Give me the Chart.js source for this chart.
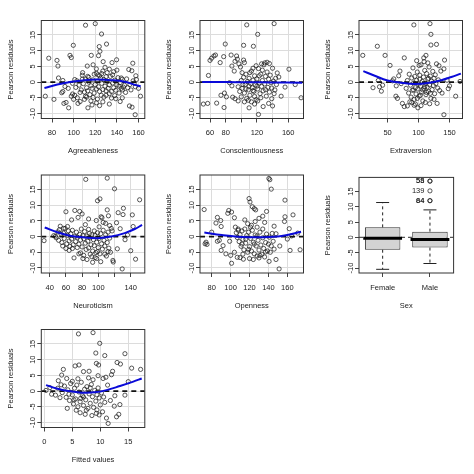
<!DOCTYPE html>
<html><head><meta charset="utf-8">
<script src="https://cdn.jsdelivr.net/npm/chart.js@4.4.1/dist/chart.umd.min.js"></script>
<style>
html,body{margin:0;padding:0;background:#fff;}
#wrap{position:relative;width:474px;height:474px;overflow:hidden;background:#fff;}
canvas{position:absolute;}
</style></head><body><div id="wrap"></div>
<script>
// ---------- shared axis data ----------
const yTicks = [-10, -5, 0, 5, 10, 15];
const yRange = [-11.6, 19.6];
const yTitle = 'Pearson residuals';

// ---------- Agreeableness ----------
const agreeXTicks = [80, 100, 120, 140, 160];
const agreeXLabels = ['80', '100', '120', '140', '160'];
const agreeXRange = [70.1, 165.8];
const agreePts = [
[111,18.1],[120,18.6],[125.8,15.3],[99.7,11.7],[130.4,12.1],[77,7.6],[84.6,6.9],[85.5,5.1],[96.6,8.5],[97.8,7.8],[116.3,8.5],[123.7,11.3],[124.3,9.8],[123,8.4],[127.3,6.5],[135.5,6.2],[139.7,7.1],[112.6,5.1],[108.3,3.0],[121,2.8],[122.5,2.3],[151,4.0],[154.7,6.0],[153.8,3.6],[157.5,2.0],[86,1.3],[90,0.5],[101,0.8],[133,4.1],[137,3.3],[144,1.3],[130,1.7],[118,5.5],[108,2.2],[114,1.5],[103,0.4],
[73.8,-4.5],[81.8,-5.5],[89,-3.4],[90,-3.0],[91,-6.8],[95.4,-8.2],[93,-6.5],[97.8,-4.5],[99,-3.8],[101,-4.2],[103.4,-5.0],[106,-6.2],[110,-5.5],[112,-4.8],[113.2,-8.2],[117,-7.3],[121,-6.6],[125.5,-4.2],[127,-6.3],[130,-2.8],[135,-5.1],[139,-5.3],[142,-3.5],[145,-2.5],[148,-3.3],[151.6,-7.6],[154,-8.0],[156.9,-10.4],[161.8,-4.5],[160,-2.0],[157,-1.5],[155,0.4],[152,-0.8],[149,1.0],[146,-1.6],
[105,-1],[107,-2.5],[109,-0.5],[110,-3.2],[111,1],[112,-1.8],[113,-2.8],[114,0],[115,-4],[116,-1.2],[117,-2],[118,0.7],[119,-3.5],[120,-0.8],[121,-2.2],[122,0.3],[123,-1.5],[124,-3],[125,1.2],[126,-0.4],[127,-2.4],[128,0.8],[129,-1.3],[130,-4.2],[131,0.2],[132,-2],[133,-0.9],[134,1.8],[135,-3],[136,-0.3],[137,-1.8],[138,0.6],[139,-2.6],[140,-0.9],[141,1.4],[142,-1.3],[143,-0.2],[144,-2],[145,0.9],[147,-1],[150,-1.8],[153,-2.5],[156,-0.3],[158,0.8],[108,0.9],[113,1.8],[119,2.5],[124,2.0],[127,3.5],[131,3],[136,2.3],[140,3.8],[122,-5.4],[118,-4.9],[128,-4.8],[133,-3.7],[116,-6],[106,-3.3],[102,-1.7],[99,-0.4],[95,-2],[92,-1.4],[126,2.7],[121,4.2],[129,4.7],[111,-4.5],[124,-7.5],[104,-6.8],[100,-5.5],[138,-4.3],[143,-6.2],[133,-7.0],[145,-5.0]
];
const agreeFit = [[73,-1.9],[85,-0.8],[98,0.1],[110,0.6],[122,0.8],[135,0.6],[147,0.1],[159,-1.1],[162,-1.3]];

// ---------- Conscientiousness ----------
const conscXTicks = [60, 80, 100, 120, 140, 160];
const conscXLabels = ['60', '80', '', '120', '', '160'];
const conscXRange = [47.2, 179.6];
const conscPts = [
[107,18.2],[142,18.6],[121,15.2],[79.5,12.1],[103,11.7],[115.5,11.4],[60,6.9],[62,7.6],[65,8.3],[67,8.6],[73,6.2],[77.5,8.1],[87,8.6],[88,5.1],[94,8.3],[95,7.3],[92,6.6],[97,5.8],[99,4.8],[103,7.0],[104,6.2],[101,3.0],[91,3.5],[58,2.1],[51.5,-7.0],[57,-6.8],[68.5,-6.7],[78,-8.1],[74,-4.2],[81,-4.7],[78.5,-3.5],[89,-4.8],[92,-5.3],[88,-1.2],[85,-0.2],[161,4.1],[169,-0.8],[176.5,-5.0],[156,-1.6],[151,-4.5],[140,-7.6],[135,-6.8],[122,-10.3],[110,-8.2],[146,2.9],[148,1.6],[143,-2.5],[128,-7.8],[117,-7.0],[96,-6.0],[100,-4.7],
[96,-1.5],[98,-3],[100,0.5],[101,-2],[103,1.5],[104,-3.5],[105,-0.8],[106,2.5],[107,-5.2],[108,0.2],[109,-2.5],[110,1.2],[111,-4.2],[112,-0.5],[113,3.5],[114,-1.8],[115,0.6],[116,-3],[117,2],[118,-0.9],[119,-5.6],[120,1],[121,-2.2],[122,4.3],[123,-0.3],[124,-3.7],[125,2.5],[126,-1.4],[127,0.5],[128,-2.8],[129,5.5],[130,-0.6],[131,1.8],[132,-4.5],[133,3.2],[134,-1.7],[135,0.9],[136,-3.2],[137,2.2],[138,-0.2],[139,-1.9],[140,4.4],[141,0.3],[142,-3.7],[144,1.2],[145,-0.8],[130,6.1],[126,5.8],[136,5.9],[133,6.3],[119,5.2],[113,-6.3],[117,-4.6],[121,-6.0],[125,-5.0],[109,-5.8],[104,-6.3],[139,-5.3],[111,3.0],[115,4.4],[127,3.8],[123,2.0],[131,-2.4],[115,-2.7],[120,-1.3],[110,-1.3],[106,-2.2],[102,-0.8]
];
const conscFit = [[50,0.05],[80,0.0],[110,-0.05],[140,-0.1],[178,-0.2]];

// ---------- Extraversion ----------
const extraXTicks = [50, 100, 150];
const extraXLabels = ['50', '100', '150'];
const extraXRange = [3.9, 171];
const extraPts = [
[10,8.5],[33.5,11.4],[46,8.5],[54,5.3],[77,7.7],[92.5,18.2],[118.5,18.6],[120,15.2],[120,11.8],[129,12.0],[112,8.5],[108.5,7.7],[142,7.0],[141,4.2],[37,-1.5],[26.5,-1.8],[40,-2.9],[35,0.5],[42,-1.0],[58,0.4],[63.5,-4.5],[66,-5.2],[74,-6.8],[77,-7.8],[82,-7.6],[93,-7.4],[141,-10.4],[160,-4.5],[167,0.2],[148,-2.1],[146,0.6],[150,-1.2],[138,-3.5],[130,-6.8],[125,-5.5],[99,-8.2],[89,-6.5],[70,3.5],[68,2.0],[60,1.0],[64,-1.2],[72,-0.5],[136,3.5],[133,5.2],
[80,-2],[82,0.5],[84,-3.5],[85,2.5],[87,-1],[88,-4.8],[89,1.3],[90,-2.6],[91,4.5],[92,-0.3],[93,-5.5],[94,1.8],[95,-1.8],[96,-3.8],[97,0.6],[98,3.2],[99,-2.2],[100,-0.7],[101,-4.5],[102,2.2],[103,-1.3],[104,5.5],[105,-3.2],[106,0.2],[107,-6],[108,1.6],[109,-2],[110,3.7],[111,-0.4],[112,-4],[113,2.7],[114,-1.6],[115,0.9],[116,-3],[117,4.8],[118,-0.9],[119,1.9],[120,-5.2],[121,0.3],[122,-2.4],[123,3.4],[124,-1.1],[125,1.2],[126,-3.7],[127,2.3],[128,-0.5],[129,5.8],[131,-1.9],[132,0.7],[134,-2.7],[109,6.5],[97,6.8],[115,6.1],[101,5.3],[86,-6.3],[95,-7.0],[104,-7.5],[111,-6.5],[118,-6.9],[92,-2.5],[107,-2.5],[113,-3.3],[103,-4.2],[98,-5.2],[119,-3.6],[110,-1.5],[102,0.9],[116,1.2]
];
const extraFit = [[10.9,3.5],[28.3,2.1],[50,0.5],[71.7,-0.2],[93.4,-0.6],[115,-0.3],[136.9,0.6],[153,1.6],[168.4,2.7]];

// ---------- Neuroticism ----------
const neuroXTicks = [40, 60, 80, 100, 120, 140];
const neuroXLabels = ['40', '60', '80', '100', '', '140'];
const neuroXRange = [29.6, 157.4];
const neuroPts = [
[33,-1.3],[84.5,18.2],[111,18.6],[120,15.2],[99,11.4],[102,12.0],[151,11.7],[60,7.9],[71,8.3],[77,8.0],[80,7.2],[67,5.3],[75,6.1],[103.5,6.3],[104.5,6.0],[97.5,5.1],[111,8.5],[112.5,6.6],[124.5,7.6],[130.5,7.0],[131,9.0],[122.5,4.4],[142,6.9],[143,3.2],[123.5,-3.9],[118,-7.6],[118.5,-8.1],[129.5,-10.3],[146,-7.2],[140,-4.5],[133,-1.0],[127,2.5],[136,0.5],[117,1.8],[114,3.5],[109,4.2],[88,5.6],[84,3.8],[62,3.2],[57,2.6],[53,3.3],[56,-3.0],[60,-3.8],[64,-4.4],[70,-6.8],[74,-3.5],[78,-5.2],[82,-6.0],[86,-7.3],[90,-5.6],[93,-8.2],[96,-6.7],[99,-4.8],[103,-8.0],[108,-5.6],[112,-4.8],
[45,0.3],[47,0.1],[48,-0.4],[50,1.5],[51,-1.2],[52,2.2],[54,0.8],[55,-1.9],[57,1.1],[58,-0.6],[59,2.6],[61,-2.3],[62,0.4],[63,1.8],[64,-1.4],[65,-3.1],[66,0.9],[67,-0.8],[68,2.0],[69,-2.6],[71,0.1],[72,-1.6],[73,1.4],[74,-0.2],[76,-2.4],[77,0.7],[78,-1.1],[79,2.4],[80,-3.3],[81,0.3],[82,-0.7],[83,1.6],[84,-2.1],[85,-4.1],[86,0.2],[87,-1.5],[88,-3.6],[89,1.0],[90,-0.4],[91,-2.6],[92,0.6],[93,-4.6],[94,-1.0],[95,-2.9],[96,0.4],[97,-5.1],[98,-1.8],[99,1.2],[100,-3.5],[101,-0.6],[102,-5.5],[103,0.9],[104,-2.3],[105,-4.0],[106,2.0],[107,-1.2],[108,-3.0],[109,0.6],[110,-6.2],[111,-1.9],[112,1.4],[113,-3.7],[114,-0.5],[115,-5.0],[116,2.6],[92,-6.4],[98,-7.0],[88,2.3],[95,1.8],[101,3.1],[106,4.5],[81,-7.0],[76,-5.5],[68,-3.8]
];
const neuroFit = [[33.8,2.9],[50.3,1.3],[66.7,0.2],[83.2,-0.3],[99.7,-0.5],[116,0],[132.6,1.1],[145,2.4],[154,3.7]];

// ---------- Openness ----------
const openXTicks = [80, 100, 120, 140, 160];
const openXLabels = ['80', '100', '120', '140', '160'];
const openXRange = [67.6, 177.1];
const openPts = [
[72,8.6],[74,-1.8],[73,-2.3],[75,-2.5],[80,1.4],[84.5,4.3],[89.5,5.1],[86,6.1],[90,3.2],[88,-1.2],[92,-2.9],[95,-5.5],[90,-4.4],[86,-1.5],[98,8.3],[97,7.4],[101,7.8],[104,6.0],[99,-1.5],[100,-6.0],[101,-8.5],[104,-5.0],[107,-6.6],[108,2.0],[113.5,-7.2],[119.5,12.1],[120.5,11.0],[123,9.5],[125,8.9],[126.5,8.5],[140.5,18.5],[141.5,18.1],[143,15.1],[157.5,11.6],[166,6.9],[157,4.8],[157.5,6.3],[162,2.5],[160,-0.8],[162.9,-4.4],[164.5,0.2],[173.5,-4.2],[171,1.1],[151.3,-10.3],[140.7,-7.9],[148,-7.3],[152,-3.0],[148,0.9],[146,3.3],[138,8.0],[134,6.5],[136,4.5],[130,5.8],[128,3.0],
[105,3],[106,1.2],[107,-0.3],[108,2.4],[109,-1.6],[110,0.6],[111,-3.1],[112,1.8],[113,-0.9],[114,-4.2],[115,2.4],[116,-2.1],[117,0.3],[118,-5.0],[119,1.4],[120,-3.2],[121,-0.6],[122,-4.6],[123,2.0],[124,-1.8],[125,-5.5],[126,0.5],[127,-3.0],[128,-6.2],[129,-1.2],[130,-4.3],[131,1.4],[132,-2.7],[133,-5.6],[134,-0.4],[135,-3.8],[136,-6.5],[137,-1.9],[138,0.8],[139,-4.6],[140,-2.4],[141,-0.2],[142,-5.0],[143,-3.0],[144,1.0],[145,-1.5],[146,-4.0],[115,5.3],[118,4.1],[122,3.6],[126,4.8],[110,-6.7],[113,-5.6],[120,-7.0],[124,-7.3],[130,-6.8],[121,3.0],[116,-0.8],[112,-2.4],[128,0.2],[134,2.4],[119,-4.1],[125,-2.4],[131,-6.0],[137,-4.9]
];
const openFit = [[72.2,1.3],[90.6,0.5],[111.7,-0.1],[133,-0.2],[154,0.2],[174.5,1.5]];

// ---------- Sex (boxplot) ----------
const sexLabels = ['Female', 'Male'];
const sexLowerWhisker = [-10.4, -8.5];
const sexQ1 = [-4.0, -3.3];
const sexMedian = [-0.25, -0.7];
const sexQ3 = [3.3, 1.9];
const sexUpperWhisker = [11.4, 9.0];
const maleOutliers = [18.4, 18.4, 15.2, 12.0, 12.0];
const maleOutlierIds = ['55', '58', '139', '64', '84'];

// ---------- Fitted values ----------
const fittedXTicks = [0, 5, 10, 15];
const fittedXLabels = ['0', '5', '10', '15'];
const fittedXRange = [-0.54, 17.95];
const fittedPts = [
[6.1,18.2],[8.7,18.6],[9.9,15.2],[9.2,12.1],[10.8,11.3],[14.4,11.9],[13.0,9.1],[13.6,8.6],[15.6,7.3],[17.2,6.9],[5.5,8.0],[6.2,8.3],[7.0,6.2],[8.0,6.3],[9.3,8.8],[9.7,8.3],[3.4,6.9],[3.1,5.1],[4.0,4.0],[12.2,6.3],[12.0,5.2],[15,3.0],[14.4,-1.3],[1.0,1.1],[1.3,-1.0],[0.3,0.2],[2.0,-1.3],[2.5,3.3],[11.1,-8.6],[11.4,-10.3],[12.9,-8.2],[13.3,-7.4],[9.3,-7.1],[6.4,-6.9],[7.5,-6.1],[12.5,-4.8],[13.5,-4.3],[11.8,-3.0],[11.3,1.9],[12.6,-1.5],[10.5,4.0],[11.0,4.4],
[3.2,-0.5],[3.6,1.6],[3.9,-2.0],[4.2,0.4],[4.5,-3.0],[4.7,2.4],[5.0,-1.2],[5.2,-4.1],[5.4,0.9],[5.6,-2.5],[5.8,1.9],[6.0,-5.0],[6.2,-0.3],[6.4,-3.4],[6.6,2.8],[6.8,-1.5],[7.0,-4.6],[7.2,0.6],[7.4,-2.8],[7.6,1.4],[7.8,-5.5],[8.0,-0.9],[8.2,-3.9],[8.4,2.1],[8.6,-1.8],[8.8,-5.2],[9.0,0.2],[9.2,-3.2],[9.4,-6.0],[9.6,1.0],[9.8,-2.2],[10.0,-4.4],[10.2,-0.6],[10.4,-6.6],[10.6,-1.9],[10.8,-3.6],[4.1,-5.5],[5.7,-6.1],[7.3,-7.4],[8.5,-7.8],[9.8,-7.6],[6.0,3.9],[7.9,4.2],[8.7,3.6],[9.6,4.9],[5.0,3.1],[2.8,-2.1],[2.4,0.9],[7.0,-1.9],[8.2,1.0],[9.4,-1.2],[6.5,-2.3],[5.3,-2.8],[4.4,-1.0],[3.0,2.0]
];
const fittedFit = [[0.3,1.9],[2.2,0.8],[4.3,0],[6.7,-0.5],[9.0,-0.4],[11.1,0.3],[13.5,1.6],[15.9,3.0],[17.4,4.0]];

// ---------- layout / style ----------
const COLS = [41.3, 200, 359];
const ROWS = [20.5, 175, 329.5];
const PW = 103.5, PH = 98, XH = 37;
const FONT = '"Liberation Sans", Arial, Helvetica, sans-serif';
const FS = 7.5;
const TXT = '#222';
const TICK = '#444';
const GRID = '#dcdcdc';
const wrap = document.getElementById('wrap');

const boxPlugin = {
  id: 'rbox',
  afterDatasetsDraw(chart) {
    const a = chart.chartArea, c = chart.ctx;
    c.save(); c.strokeStyle = '#333'; c.lineWidth = 1;
    c.strokeRect(a.left, a.top, a.right - a.left, a.bottom - a.top);
    c.restore();
  }
};

function makeCanvas(col, row) {
  const L = COLS[col], T = ROWS[row];
  const cx = Math.floor(L - 41), cy = Math.floor(T - 20);
  const cw = 158, ch = Math.ceil((T - cy) + PH + XH + 1);
  const cv = document.createElement('canvas');
  cv.width = cw; cv.height = ch;
  cv.style.left = cx + 'px'; cv.style.top = cy + 'px';
  cv.style.width = cw + 'px'; cv.style.height = ch + 'px';
  wrap.appendChild(cv);
  return {cv, L, T, cx, cy, cw, ch,
    padding: {left: 0, top: T - cy, right: cw - (L - cx) - PW, bottom: ch - (T - cy) - PH - XH}};
}

function yScaleOpts(g, gridColor) {
  return {
    type: 'linear', min: yRange[0], max: yRange[1], bounds: 'data',
    afterBuildTicks: s => { s.ticks = yTicks.map(v => ({value: v})); },
    afterFit: s => { s.width = g.L - g.cx; },
    border: {display: false},
    grid: {color: gridColor, lineWidth: 1, tickLength: 4, tickColor: TICK, drawTicks: true},
    ticks: {autoSkip: false, minRotation: 90, maxRotation: 90, crossAlign: 'center', padding: -1.4,
      color: TXT, font: {family: FONT, size: FS}, callback: v => String(v)},
    title: {display: true, text: yTitle, color: TXT, font: {family: FONT, size: FS},
      padding: {top: g.L - 30.6 - g.cx - FS * 0.6, bottom: 0}}
  };
}

function scatterPanel(p) {
  const g = makeCanvas(p.col, p.row);
  new Chart(g.cv, {
    type: 'scatter',
    data: {datasets: [
      {type: 'scatter', data: p.pts.map(([x, y]) => ({x, y})), pointStyle: 'circle', pointRadius: 2.1,
        pointBorderWidth: 0.8, pointBorderColor: 'rgba(25,25,25,0.9)', pointBackgroundColor: 'rgba(0,0,0,0)', order: 3},
      {type: 'line', data: [{x: p.xRange[0], y: 0}, {x: p.xRange[1], y: 0}], borderColor: '#111', borderWidth: 1.8,
        borderDash: [5, 4], pointRadius: 0, fill: false, order: 2},
      {type: 'line', data: p.fit.map(([x, y]) => ({x, y})), borderColor: '#0a0ad8', borderWidth: 2,
        pointRadius: 0, tension: 0.4, fill: false, order: 1}
    ]},
    options: {
      responsive: false, animation: false, devicePixelRatio: 1,
      layout: {padding: g.padding},
      plugins: {legend: {display: false}, tooltip: {enabled: false}},
      scales: {
        x: {
          type: 'linear', min: p.xRange[0], max: p.xRange[1], bounds: 'data',
          afterBuildTicks: s => { s.ticks = p.xTicks.map(v => ({value: v})); },
          afterFit: s => { s.height = XH; },
          border: {display: false},
          grid: {color: GRID, lineWidth: 1, tickLength: 4, tickColor: TICK, drawTicks: true},
          ticks: {autoSkip: false, minRotation: 0, maxRotation: 0, padding: 6, color: TXT,
            font: {family: FONT, size: FS}, callback: (v, i) => p.xLabels[i]},
          title: {display: true, text: p.name, color: TXT, font: {family: FONT, size: FS}, padding: {top: 0, bottom: 0}}
        },
        y: yScaleOpts(g, GRID)
      }
    },
    plugins: [boxPlugin]
  });
}

function boxPanel(col, row) {
  const g = makeCanvas(col, row);
  const zeroPlugin = {
    id: 'zero0',
    beforeDatasetsDraw(chart) {
      const a = chart.chartArea, c = chart.ctx, y = chart.scales.y.getPixelForValue(0);
      c.save(); c.strokeStyle = '#555'; c.lineWidth = 1.3; c.setLineDash([4, 3]);
      c.beginPath(); c.moveTo(a.left, y); c.lineTo(a.right, y); c.stroke(); c.restore();
    }
  };
  const idPlugin = {
    id: 'ids',
    afterDatasetsDraw(chart) {
      const c = chart.ctx, xs = chart.scales.x, ys = chart.scales.y;
      const x = xs.getPixelForValue(1) - 5.5;
      c.save(); c.fillStyle = TXT; c.font = FS + 'px ' + FONT; c.textAlign = 'right'; c.textBaseline = 'middle';
      maleOutliers.forEach((v, i) => c.fillText(maleOutlierIds[i], x, ys.getPixelForValue(v)));
      c.restore();
    }
  };
  const whiskers = [];
  sexLabels.forEach((lab, i) => {
    whiskers.push([{x: lab, y: sexQ3[i]}, {x: lab, y: sexUpperWhisker[i]}]);
    whiskers.push([{x: lab, y: sexQ1[i]}, {x: lab, y: sexLowerWhisker[i]}]);
  });
  const staples = [];
  sexLabels.forEach((lab, i) => { staples.push({x: lab, y: sexUpperWhisker[i]}); staples.push({x: lab, y: sexLowerWhisker[i]}); });
  new Chart(g.cv, {
    type: 'bar',
    data: {labels: sexLabels, datasets: [
      {type: 'bar', data: sexQ1.map((q, i) => [q, sexQ3[i]]), backgroundColor: '#d3d3d3', borderColor: '#333',
        borderWidth: 1, borderSkipped: false, barPercentage: 0.75, categoryPercentage: 1, order: 5},
      ...whiskers.map(w => ({type: 'line', data: w, borderColor: '#222', borderWidth: 1, borderDash: [3, 3],
        pointRadius: 0, fill: false, order: 4})),
      {type: 'line', data: staples, showLine: false, pointStyle: 'line', pointRadius: 6.5, pointBorderWidth: 1,
        pointBorderColor: '#222', order: 3},
      {type: 'line', data: sexMedian.map((m, i) => ({x: sexLabels[i], y: m})), showLine: false, pointStyle: 'line',
        pointRadius: 19.4, pointBorderWidth: 3, pointBorderColor: '#000', order: 1},
      {type: 'line', data: maleOutliers.map(v => ({x: 'Male', y: v})), showLine: false, pointStyle: 'circle',
        pointRadius: 2.1, pointBorderWidth: 0.8, pointBorderColor: 'rgba(25,25,25,0.9)', pointBackgroundColor: 'rgba(0,0,0,0)', order: 2}
    ]},
    options: {
      responsive: false, animation: false, devicePixelRatio: 1,
      layout: {padding: g.padding},
      plugins: {legend: {display: false}, tooltip: {enabled: false}},
      scales: {
        x: {
          type: 'category', offset: true,
          afterFit: s => { s.height = XH; },
          border: {display: false},
          grid: {offset: false, color: 'rgba(0,0,0,0)', tickLength: 4, tickColor: TICK, drawTicks: true},
          ticks: {autoSkip: false, minRotation: 0, maxRotation: 0, padding: 6, color: TXT, font: {family: FONT, size: FS}},
          title: {display: true, text: 'Sex', color: TXT, font: {family: FONT, size: FS}, padding: {top: 0, bottom: 0}}
        },
        y: yScaleOpts(g, 'rgba(0,0,0,0)')
      }
    },
    plugins: [zeroPlugin, boxPlugin, idPlugin]
  });
}

const panels = [
  {name: 'Agreeableness', col: 0, row: 0, xRange: agreeXRange, xTicks: agreeXTicks, xLabels: agreeXLabels, pts: agreePts, fit: agreeFit},
  {name: 'Conscientiousness', col: 1, row: 0, xRange: conscXRange, xTicks: conscXTicks, xLabels: conscXLabels, pts: conscPts, fit: conscFit},
  {name: 'Extraversion', col: 2, row: 0, xRange: extraXRange, xTicks: extraXTicks, xLabels: extraXLabels, pts: extraPts, fit: extraFit},
  {name: 'Neuroticism', col: 0, row: 1, xRange: neuroXRange, xTicks: neuroXTicks, xLabels: neuroXLabels, pts: neuroPts, fit: neuroFit},
  {name: 'Openness', col: 1, row: 1, xRange: openXRange, xTicks: openXTicks, xLabels: openXLabels, pts: openPts, fit: openFit},
  {name: 'Fitted values', col: 0, row: 2, xRange: fittedXRange, xTicks: fittedXTicks, xLabels: fittedXLabels, pts: fittedPts, fit: fittedFit}
];
panels.forEach(scatterPanel);
boxPanel(2, 1);
</script></body></html>
